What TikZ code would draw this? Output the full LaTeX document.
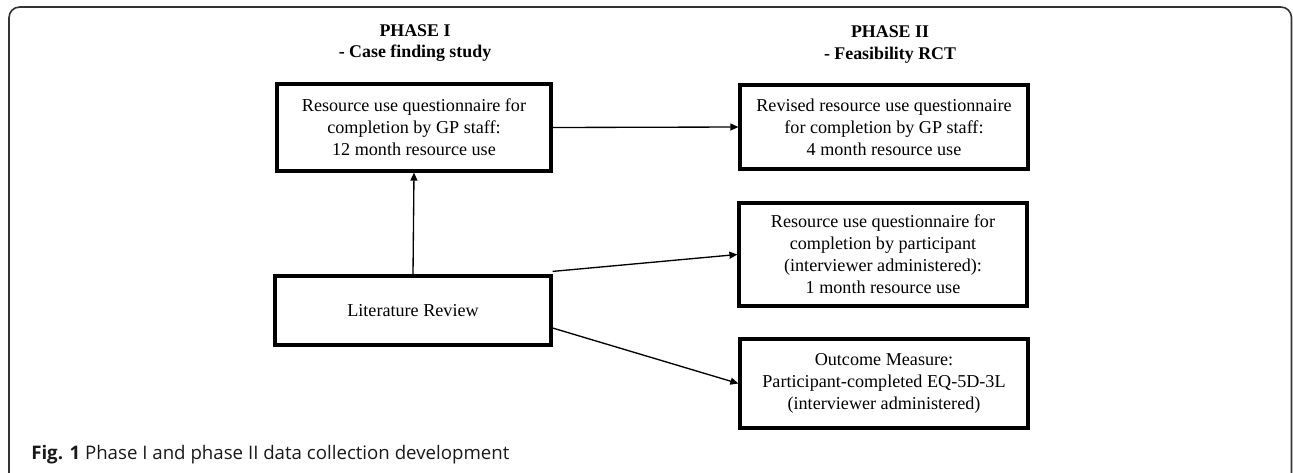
\documentclass[tikz,border=0pt]{standalone}
\usepackage{fontspec}
\setmainfont{Liberation Serif}
\newfontfamily\capfont{Open Sans}
\usetikzlibrary{arrows.meta,calc}
\begin{document}
\begin{tikzpicture}[x=0.75pt,y=-0.75pt,
  box/.style={draw=black,line width=2.4pt,align=center,inner sep=0pt,
    font=\fontsize{13.6pt}{16.5pt}\selectfont},
  head/.style={align=center,inner sep=0pt,font=\fontsize{13.4pt}{16pt}\selectfont\bfseries},
  arr/.style={line width=1pt,-{Triangle[length=6pt,width=5.2pt]}}]
\useasboundingbox (0,0) rectangle (1293,472);
% outer frame
\draw[line width=1.2pt,color=black!80,rounded corners=8pt]
  (9,475) -- (9,7) -- (1291.5,7) -- (1291.5,475);
% headings
\node[head] (h1) at (415,43) {PHASE I\\- Case finding study};
\node[head] (h2) at (890,44.5) {PHASE II\\- Feasibility RCT};
% boxes
\node[box,minimum width=205.5pt,minimum height=65.25pt] (b1) at (414,127.5)
  {Resource use questionnaire for\\completion by GP staff:\\12 month resource use};
\node[box,minimum width=216pt,minimum height=63pt] (b2) at (884,127)
  {Revised resource use questionnaire\\for completion by GP staff:\\4 month resource use};
\node[box,minimum width=216pt,minimum height=77.25pt] (b3) at (883,254.5)
  {Resource use questionnaire for\\completion by participant\\(interviewer administered):\\1 month resource use};
\node[box,minimum width=216pt,minimum height=66.75pt] (b4) at (884,383.5)
  {Outcome Measure:\\Participant-completed EQ-5D-3L\\(interviewer administered)};
\node[box,minimum width=207pt,minimum height=51.75pt] (lit) at (413,310.5)
  {Literature Review};
% connectors
\draw[arr] (b1.east) -- (b2.west);
\draw[arr] (lit.north) -- (b1.south);
\draw[arr] ($(lit.north east)+(0,-3)$) -- (b3.west);
\draw[arr] ($(lit.east)+(0,17.5)$) -- (b4.west);
% caption
\node[anchor=west,inner sep=0pt,font=\capfont\fontsize{14pt}{15pt}\selectfont,text=black!90] (cap) at (31,455)
  {\textbf{Fig. 1} Phase I and phase II data collection development};
\end{tikzpicture}
\end{document}
